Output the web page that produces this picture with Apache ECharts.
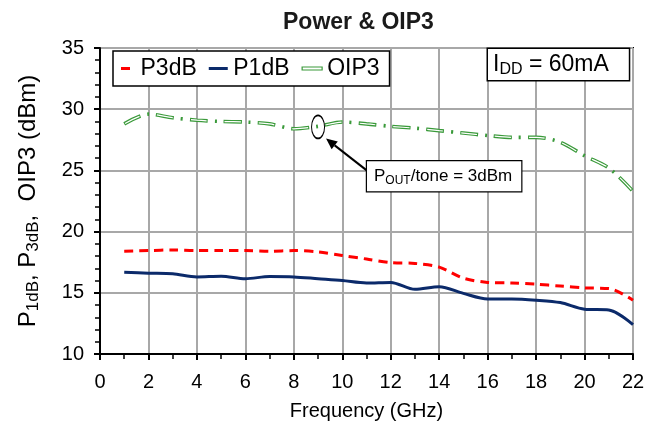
<!DOCTYPE html>
<html><head><meta charset="utf-8">
<script src="https://cdn.jsdelivr.net/npm/echarts@6/dist/echarts.min.js"></script>
<style>html,body{margin:0;padding:0;background:#fff}#c{width:656px;height:429px}</style>
</head><body><div id="c"></div>
<script>
const FONT = 'Liberation Sans, Arial, sans-serif';
const freq = [1,2,3,4,5,6,7,8,9,10,11,12,13,14,15,16,17,18,19,20,21,22];
const p3db = [18.4,18.45,18.5,18.45,18.45,18.45,18.4,18.45,18.35,18.05,17.76,17.46,17.4,17.1,16.2,15.85,15.8,15.7,15.55,15.4,15.35,14.4];
const p1db = [16.67,16.6,16.55,16.3,16.35,16.15,16.33,16.3,16.15,16.0,15.8,15.85,15.28,15.5,14.95,14.5,14.5,14.4,14.2,13.66,13.6,12.4];
const oip3 = [28.8,29.6,29.3,29.1,29.0,28.95,28.8,28.4,28.6,28.95,28.8,28.6,28.45,28.25,28.05,27.85,27.7,27.7,27.3,26.2,25.2,23.3];
const xTicks = {min:0, max:22, interval:2};
const yTicks = {min:10, max:35, interval:5};
const annot = {ellipse:[9.0, 28.55], arrowFrom:[11.14, 24.8], arrowTo:[9.33, 27.6], box:[11.02, 25.75]};

const pairs = v => freq.map((f,i)=>[f, v[i]]);
const GREEN = '#3a9a3a', RED = '#ff0000', NAVY = '#0b2a6a';

const chart = echarts.init(document.getElementById('c'), null, {renderer:'canvas'});
const axisCommon = {
  axisLine:{show:true, lineStyle:{color:'#000', width:2}},
  axisTick:{show:true, inside:false, length:6, lineStyle:{color:'#000', width:2}},
  minorTick:{show:true, length:5, lineStyle:{color:'#000', width:1.5}},
  splitLine:{show:true, lineStyle:{color:'#a8a8a8', width:2}},
  axisLabel:{color:'#000', fontSize:20, fontFamily:FONT}
};
chart.setOption({
  animation:false,
  title:{text:'Power & OIP3', left:278, top:6, textStyle:{fontSize:23, fontWeight:'bold', color:'#1a1a1a', fontFamily:FONT}},
  grid:{left:100, top:48, width:533, height:306, show:true, borderColor:'#000', borderWidth:2, backgroundColor:'#fff'},
  legend:{
    left:113, top:51, orient:'horizontal', padding:[6,10,6,8], itemGap:12,
    borderColor:'#000', borderWidth:1.5, backgroundColor:'#fff',
    itemWidth:20, itemHeight:3,
    textStyle:{fontSize:23, color:'#000', fontFamily:FONT},
    data:[
      {name:'P3dB', icon:'path://M0,0h9v3h-9z', itemStyle:{color:RED}},
      {name:'P1dB', icon:'path://M0,0h19v3h-19z', itemStyle:{color:NAVY}},
      {name:'OIP3', icon:'path://M0,0h20v3h-20z', itemStyle:{color:'#fff', borderColor:GREEN, borderWidth:1.2}}
    ]
  },
  xAxis:Object.assign({}, axisCommon, {
    type:'value', min:xTicks.min, max:xTicks.max, interval:xTicks.interval,
    minorTick:Object.assign({}, axisCommon.minorTick, {splitNumber:2}),
    axisLabel:Object.assign({}, axisCommon.axisLabel, {margin:18}),
    name:'Frequency (GHz)', nameLocation:'middle', nameGap:47,
    nameTextStyle:{fontSize:20, color:'#000', fontFamily:FONT}
  }),
  yAxis:Object.assign({}, axisCommon, {
    type:'value', min:yTicks.min, max:yTicks.max, interval:yTicks.interval,
    minorTick:Object.assign({}, axisCommon.minorTick, {splitNumber:5}),
    axisLabel:Object.assign({}, axisCommon.axisLabel, {margin:16}),
    name:'{m|P}{s|1dB}{m|, P}{s|3dB}{m|,  OIP3 (dBm)}', nameLocation:'middle', nameGap:58,
    nameTextStyle:{color:'#000', fontFamily:FONT, rich:{
      m:{fontSize:24, color:'#000', fontFamily:FONT},
      s:{fontSize:17, color:'#000', fontFamily:FONT, padding:[11,0,0,0]}
    }}
  }),
  series:[
    {name:'OIP3', type:'line', data:pairs(oip3), smooth:0.3, showSymbol:false, symbol:'none',
     lineStyle:{color:GREEN, width:3.6, type:[18,7,2,7]}, itemStyle:{color:GREEN}, z:3},
    {name:'OIP3 inner', type:'line', data:pairs(oip3), smooth:0.3, showSymbol:false, symbol:'none',
     lineStyle:{color:'#fff', width:1.2, type:[16,18], dashOffset:-1}, z:4},
    {name:'P3dB', type:'line', data:pairs(p3db), smooth:0.3, showSymbol:false, symbol:'none',
     lineStyle:{color:RED, width:3, type:[9,6]}, itemStyle:{color:RED}, z:3},
    {name:'P1dB', type:'line', data:pairs(p1db), smooth:0.3, showSymbol:false, symbol:'none',
     lineStyle:{color:NAVY, width:3}, itemStyle:{color:NAVY}, z:3}
  ]
});

const px = p => chart.convertToPixel({gridIndex:0}, p);
const e = px(annot.ellipse), a0 = px(annot.arrowFrom), a1 = px(annot.arrowTo), b = px(annot.box);
const dx = a1[0]-a0[0], dy = a1[1]-a0[1], L = Math.hypot(dx,dy), ux = dx/L, uy = dy/L;
const hl = 11, hw = 5;
const base = [a1[0]-ux*hl, a1[1]-uy*hl];
chart.setOption({graphic:[
  {type:'circle', shape:{cx:0, cy:0, r:1}, x:e[0], y:e[1], scaleX:6.5, scaleY:11.5, z:20,
   style:{fill:'none', stroke:'#000', lineWidth:1.3, strokeNoScale:true}},
  {type:'line', shape:{x1:a0[0], y1:a0[1], x2:base[0], y2:base[1]}, z:20, style:{stroke:'#000', lineWidth:2}},
  {type:'polygon', shape:{points:[a1, [base[0]-uy*hw, base[1]+ux*hw], [base[0]+uy*hw, base[1]-ux*hw]]}, z:20, style:{fill:'#000'}},
  {type:'text', x:b[0], y:b[1], z:20, style:{
    text:'{m|P}{s|OUT}{m|/tone = 3dBm}', backgroundColor:'#fff', borderColor:'#000', borderWidth:1.2,
    padding:[5,9,5,7], rich:{m:{fontSize:17, fontFamily:FONT, fill:'#000'}, s:{fontSize:12, fontFamily:FONT, fill:'#000', padding:[8,0,0,0]}}
  }},
  {type:'text', x:488, y:49, z:20, style:{
    text:'{m|I}{s|DD}{m| = 60mA}', backgroundColor:'#fff', borderColor:'#000', borderWidth:1.5,
    padding:[2,20,2,5], rich:{m:{fontSize:23, fontFamily:FONT, fill:'#000'}, s:{fontSize:16, fontFamily:FONT, fill:'#000', padding:[11,0,0,0]}}
  }}
]});
</script></body></html>
